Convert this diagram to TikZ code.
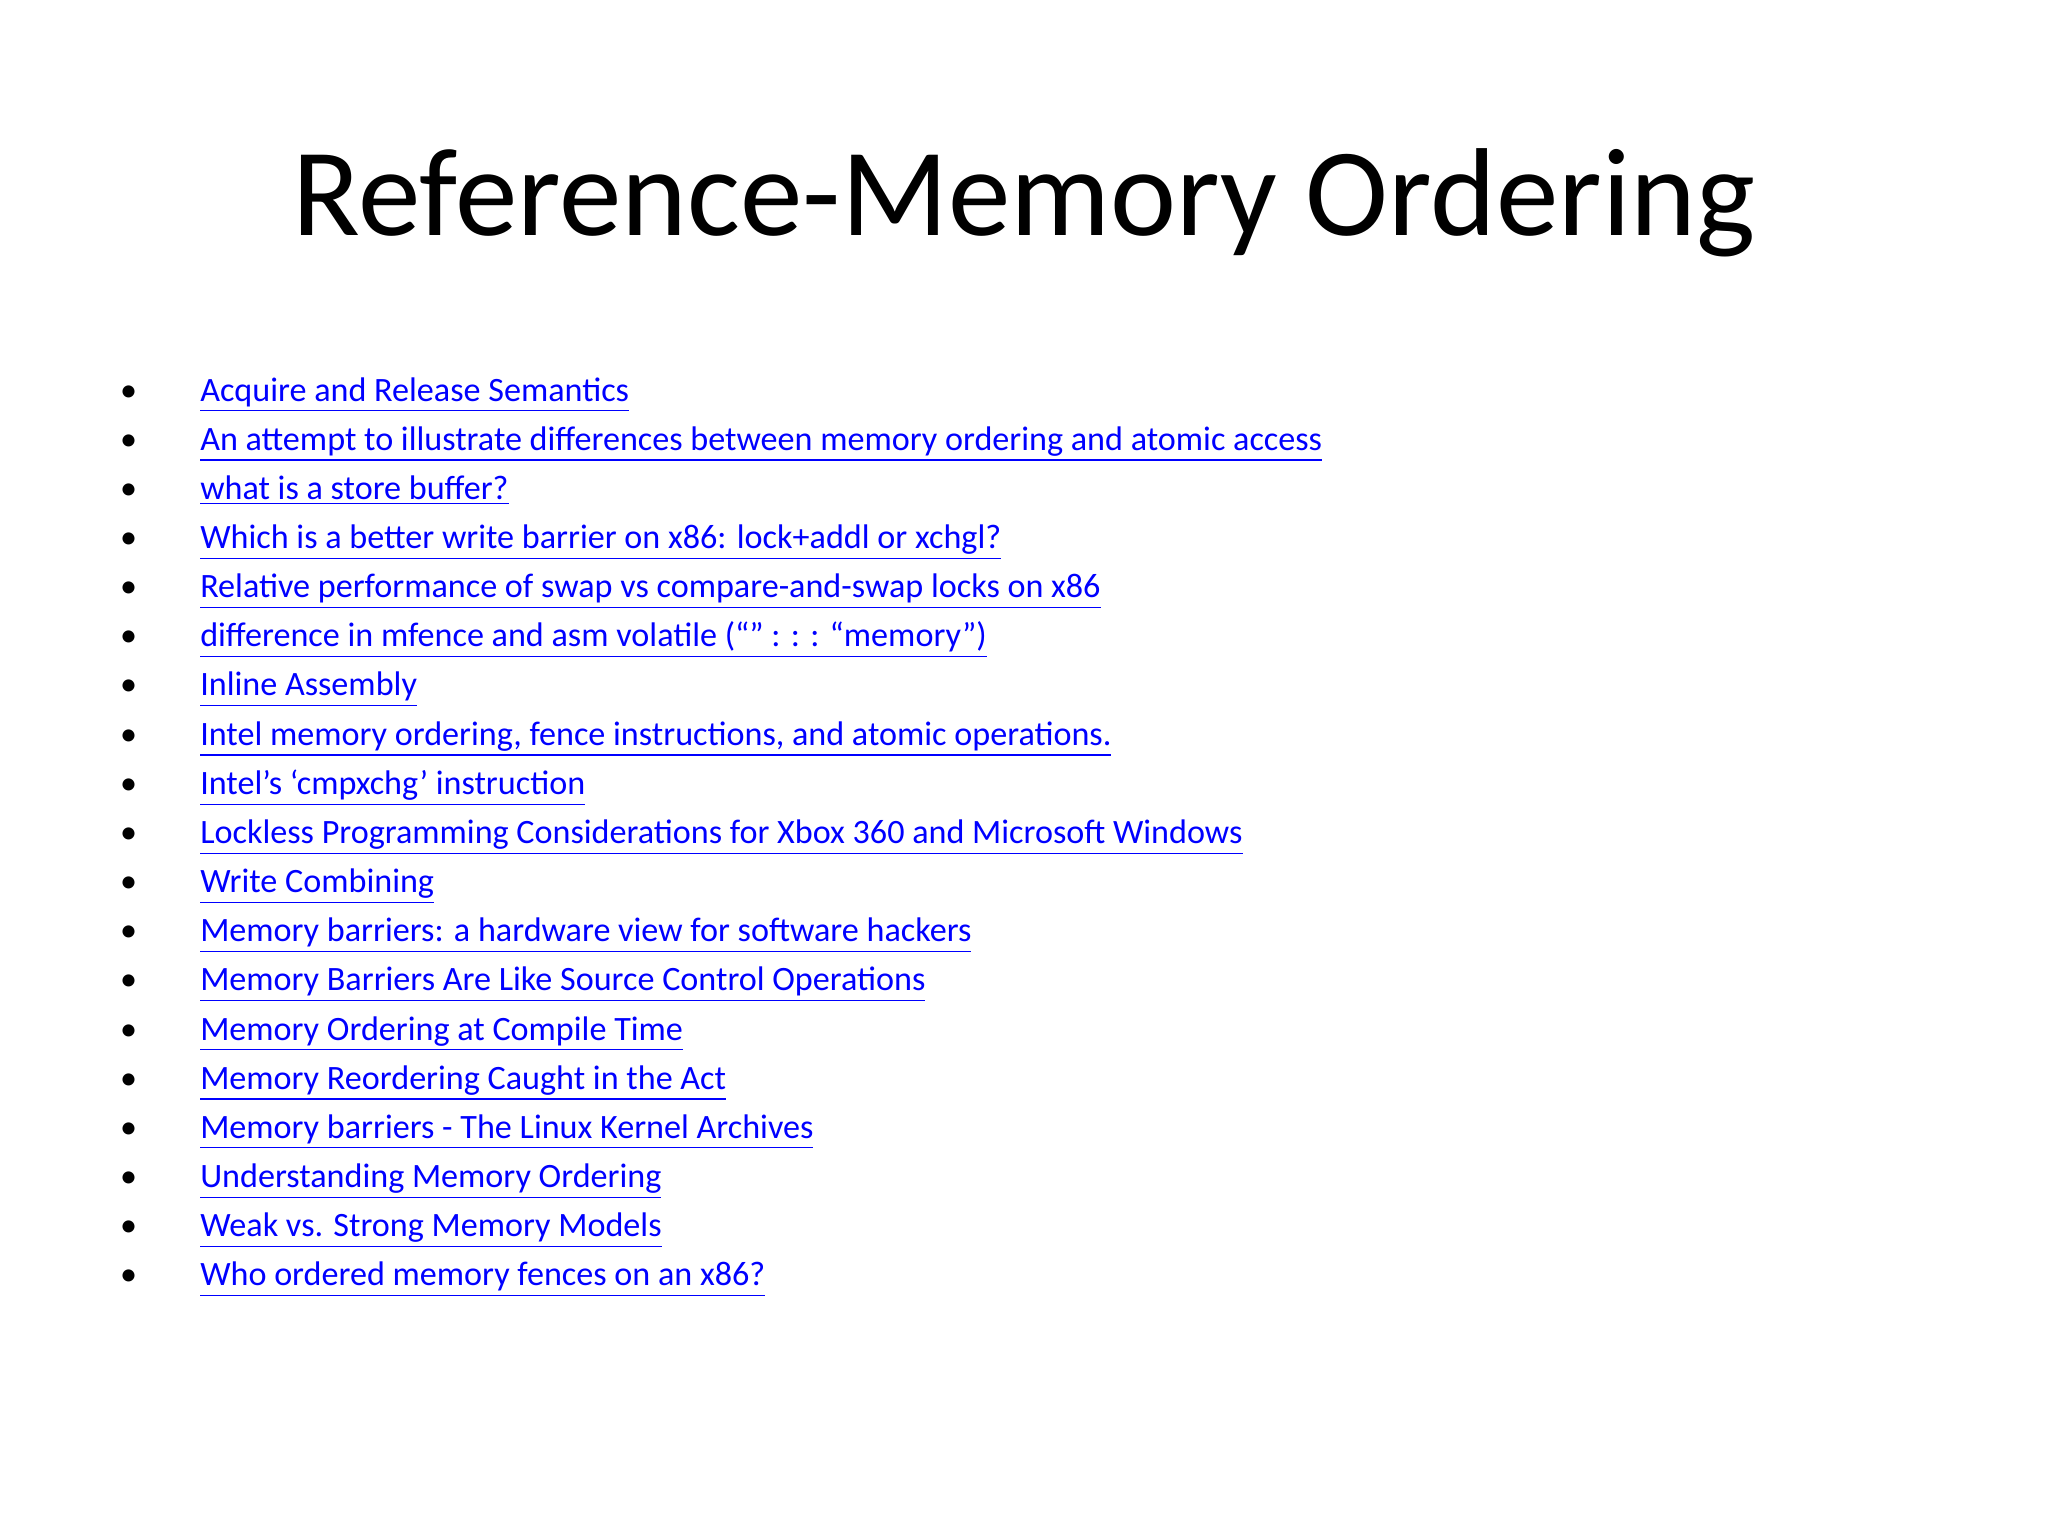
\documentclass[tikz,border=0pt]{standalone}
\usepackage{fontspec}
\setmainfont{Carlito}
\definecolor{linkc}{RGB}{0,0,255}
\begin{document}
\begin{tikzpicture}[x=1pt,y=-1pt,
  item/.style={anchor=base west,inner sep=0,font=\fontsize{12}{14}\selectfont,text=linkc},
  bul/.style={anchor=base,inner sep=0,font=\fontsize{12}{14}\selectfont}]
\useasboundingbox[fill=white] (0,0) rectangle (720,540);
\node[anchor=base,inner sep=0,font=\fontsize{44}{50}\selectfont] (title) at (360,82.7) {Reference-Memory Ordering};
\foreach \t [count=\i] in {
Acquire and Release Semantics,
An attempt to illustrate differences between memory ordering and atomic access,
what is a store buffer?,
Which is a better write barrier on x86: lock+addl or xchgl?,
Relative performance of swap vs compare-and-swap locks on x86,
difference in mfence and asm volatile (“” : : : “memory”),
Inline Assembly,
{Intel memory ordering, fence instructions, and atomic operations.},
Intel’s ‘cmpxchg’ instruction,
Lockless Programming Considerations for Xbox 360 and Microsoft Windows,
Write Combining,
Memory barriers: a hardware view for software hackers,
Memory Barriers Are Like Source Control Operations,
Memory Ordering at Compile Time,
Memory Reordering Caught in the Act,
Memory barriers - The Linux Kernel Archives,
Understanding Memory Ordering,
Weak vs. Strong Memory Models,
Who ordered memory fences on an x86?}
{
  \node[bul] (b\i) at (45.2,141+17.28*\i-17.28) {•};
  \node[item] (t\i) at (70.2,141+17.28*\i-17.28) {\underline{\t}};
}
\end{tikzpicture}
\end{document}
